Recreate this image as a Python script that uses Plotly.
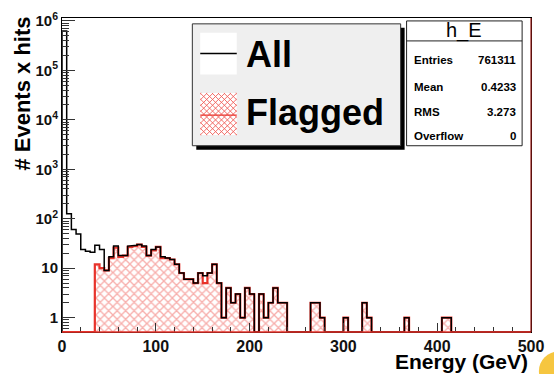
import plotly.graph_objects as go

# ---------------- data ----------------
bin_edges = list(range(0, 505, 5))          # 100 bins of 5 GeV
all_counts = [
    630000, 127, 61, 49, 24, 22, 21, 29, 24, 9,
    17, 28, 18, 18, 28, 29, 30, 28, 18, 24,
    27, 17, 16, 15, 12, 8, 6, 6, 5, 8,
    7, 8, 12, 5, 1, 4, 2, 3, 1, 4,
    3, 0, 3, 1, 2, 4, 2, 2, 0, 0,
    0, 0, 0, 2, 2, 1, 0, 0, 0, 0,
    1, 0, 0, 0, 2, 1, 0, 0, 0, 0,
    0, 0, 0, 1, 0, 0, 0, 0, 0, 0,
    0, 1, 1, 0, 0, 0, 0, 0, 0, 0,
    0, 0, 0, 0, 0, 0, 0, 0, 0, 0,
]
flagged_counts = [
    0, 0, 0, 0, 0, 0, 0, 12, 10, 9,
    16, 26, 17, 18, 27, 28, 30, 27, 18, 23,
    27, 16, 16, 15, 12, 8, 6, 6, 5, 8,
    5, 8, 12, 5, 1, 4, 2, 3, 1, 4,
    3, 0, 3, 1, 2, 4, 2, 2, 0, 0,
    0, 0, 0, 2, 2, 1, 0, 0, 0, 0,
    1, 0, 0, 0, 2, 1, 0, 0, 0, 0,
    0, 0, 0, 1, 0, 0, 0, 0, 0, 0,
    0, 1, 1, 0, 0, 0, 0, 0, 0, 0,
    0, 0, 0, 0, 0, 0, 0, 0, 0, 0,
]
series_names = ["All", "Flagged"]
stats_title = "h_E"
stats_labels = ["Entries", "Mean", "RMS", "Overflow"]
stats_values = ["761311", "0.4233", "3.273", "0"]
x_ticks = [0, 100, 200, 300, 400, 500]
y_ticks = [1, 10, 100, 1e3, 1e4, 1e5, 1e6]
y_ticktext = ["1", "10", "10<sup>2</sup>", "10<sup>3</sup>", "10<sup>4</sup>",
              "10<sup>5</sup>", "10<sup>6</sup>"]

# ---------------- layout geometry ----------------
W, H = 554, 374
ML, MR, MT, MB = 62, 17, 10, 42
PW, PH = W - ML - MR, H - MT - MB
YLOG = [-0.29, 6.06]
floor = 10 ** YLOG[0]

def px(x):
    return (x - ML) / PW

def py(y):
    return (H - MB - y) / PH

def steps(counts):
    xs, ys = [bin_edges[0]], [floor]
    for i, c in enumerate(counts):
        v = c if c > 0 else floor
        xs += [bin_edges[i], bin_edges[i + 1]]
        ys += [v, v]
    xs.append(bin_edges[-1])
    ys.append(floor)
    return xs, ys

RED = "#e8332b"
HATCH = "#f0605a"

fx, fy = steps(flagged_counts)
ax_, ay_ = steps(all_counts)

fig = go.Figure()
fig.add_trace(go.Scatter(
    x=fx, y=fy, mode="lines", fill="toself", fillcolor="rgba(0,0,0,0)",
    fillpattern=dict(shape="x", fgcolor=HATCH, bgcolor="white", size=6, solidity=0.4),
    line=dict(color=RED, width=2.2), name=series_names[1], showlegend=False,
    hoverinfo="skip"))
fig.add_trace(go.Scatter(
    x=ax_, y=ay_, mode="lines", line=dict(color="black", width=1.5),
    name=series_names[0], showlegend=False, hoverinfo="skip"))

minor_y = [m * 10 ** e for e in range(0, 6) for m in range(2, 10)] + [0.6, 0.7, 0.8, 0.9]

fig.update_layout(
    width=W, height=H,
    margin=dict(l=ML, r=MR, t=MT, b=MB, pad=0),
    paper_bgcolor="white", plot_bgcolor="white",
    font=dict(family="Liberation Sans, Arial, sans-serif", color="black"),
    showlegend=False,
    xaxis=dict(range=[0, 500], showgrid=False, zeroline=False, showline=True,
               linecolor="black", linewidth=1, mirror=True,
               ticks="inside", ticklen=9, tickcolor="#333", tickwidth=1,
               tickvals=x_ticks, ticktext=[f"<b>{v}</b>" for v in x_ticks],
               tickfont=dict(size=16, color="#111"),
               minor=dict(dtick=20, ticks="inside", ticklen=5, tickcolor="#333")),
    yaxis=dict(type="log", range=YLOG, showgrid=False, zeroline=False, showline=True,
               linecolor="black", linewidth=1, mirror=True,
               ticks="inside", ticklen=13, tickcolor="#333", tickwidth=1,
               tickvals=y_ticks, ticktext=[f"<b>{t}</b>" for t in y_ticktext],
               tickfont=dict(size=15, color="#111"),
               minor=dict(tickvals=minor_y, ticks="inside", ticklen=7, tickcolor="#333")),
)

shapes = []
# bottom red line (flagged zero level) and right red frame edge
shapes.append(dict(type="line", xref="x", yref="paper", x0=0, x1=500, y0=0, y1=0,
                   line=dict(color=RED, width=1.5), layer="above"))
shapes.append(dict(type="line", xref="paper", yref="paper", x0=1, x1=1, y0=0, y1=1,
                   line=dict(color="#9a1c17", width=1.2), layer="above"))
# legend box with shadow
shapes.append(dict(type="rect", xref="paper", yref="paper",
                   x0=px(198), x1=px(409), y0=py(145), y1=py(20),
                   fillcolor="black", line=dict(width=0), layer="above"))
shapes.append(dict(type="rect", xref="paper", yref="paper",
                   x0=px(194), x1=px(405), y0=py(141), y1=py(16),
                   fillcolor="#efefef", line=dict(color="#333", width=1), layer="above"))
# legend sample: All
shapes.append(dict(type="rect", xref="paper", yref="paper",
                   x0=px(202), x1=px(239), y0=py(68), y1=py(25),
                   fillcolor="white", line=dict(width=0), layer="above"))
shapes.append(dict(type="line", xref="paper", yref="paper",
                   x0=px(202), x1=px(239), y0=py(46.5), y1=py(46.5),
                   line=dict(color="black", width=1.5), layer="above"))
# legend sample: Flagged (cross-hatched)
SX0, SX1, SY0, SY1 = 202, 239, 87, 130
shapes.append(dict(type="rect", xref="paper", yref="paper",
                   x0=px(SX0), x1=px(SX1), y0=py(SY1), y1=py(SY0),
                   fillcolor="white", line=dict(width=0), layer="above"))
for k in range(-12, 12):
    for sgn in (1, -1):
        c = SX0 + k * 6
        pts = []
        for t in [i * 0.5 for i in range(0, 200)]:
            x = c + t
            y = SY1 - t if sgn == 1 else SY0 + t
            if SX0 <= x <= SX1 and SY0 <= y <= SY1:
                pts.append((x, y))
        if len(pts) >= 2:
            (xa, ya), (xb, yb) = pts[0], pts[-1]
            shapes.append(dict(type="line", xref="paper", yref="paper",
                               x0=px(xa), x1=px(xb), y0=py(ya), y1=py(yb),
                               line=dict(color=HATCH, width=0.9), layer="above"))
shapes.append(dict(type="line", xref="paper", yref="paper",
                   x0=px(SX0), x1=px(SX1), y0=py(109.5), y1=py(109.5),
                   line=dict(color=RED, width=1.2), layer="above"))
# stats box
shapes.append(dict(type="rect", xref="paper", yref="paper",
                   x0=px(411), x1=px(528), y0=py(141), y1=py(13),
                   fillcolor="white", line=dict(color="#222", width=1), layer="above"))
shapes.append(dict(type="line", xref="paper", yref="paper",
                   x0=px(411), x1=px(528), y0=py(33.5), y1=py(33.5),
                   line=dict(color="#222", width=1), layer="above"))
# decorative corner blob
shapes.append(dict(type="circle", xref="paper", yref="paper",
                   x0=px(545), x1=px(585), y0=py(392), y1=py(352),
                   fillcolor="#f6c640", line=dict(width=0), layer="above"))
fig.update_layout(shapes=shapes)

ann = []
ann.append(dict(xref="paper", yref="paper", x=px(246), y=py(47), xanchor="left", yanchor="middle",
                text="<b>All</b>", showarrow=False, font=dict(size=36, color="black")))
ann.append(dict(xref="paper", yref="paper", x=px(246), y=py(107), xanchor="left", yanchor="middle",
                text="<b>Flagged</b>", showarrow=False, font=dict(size=36, color="black")))
ann.append(dict(xref="paper", yref="paper", x=px(469.5), y=py(23), xanchor="center", yanchor="middle",
                text=stats_title, showarrow=False, font=dict(size=20, color="black")))
row_y = [53.5, 80.5, 106.5, 131.5]
for lab, val, yy in zip(stats_labels, stats_values, row_y):
    ann.append(dict(xref="paper", yref="paper", x=px(416), y=py(yy), xanchor="left", yanchor="middle",
                    text=f"<b>{lab}</b>", showarrow=False, font=dict(size=11.5, color="black")))
    ann.append(dict(xref="paper", yref="paper", x=px(524), y=py(yy), xanchor="right", yanchor="middle",
                    text=f"<b>{val}</b>", showarrow=False, font=dict(size=11.5, color="black")))
ann.append(dict(xref="paper", yref="paper", x=px(22), y=py(88), xanchor="center", yanchor="middle",
                text="<b># Events x hits</b>", textangle=-90, showarrow=False,
                font=dict(size=22, color="black")))
ann.append(dict(xref="paper", yref="paper", x=px(536), y=py(362.5), xanchor="right", yanchor="middle",
                text="<b>Energy (GeV)</b>", showarrow=False, font=dict(size=21, color="black")))
fig.update_layout(annotations=ann)

fig.write_html(
    "out.html",
    config={"displayModeBar": False},
    post_script="document.body.style.margin='0';document.body.style.padding='0';"
                "document.documentElement.style.overflow='hidden';",
)
